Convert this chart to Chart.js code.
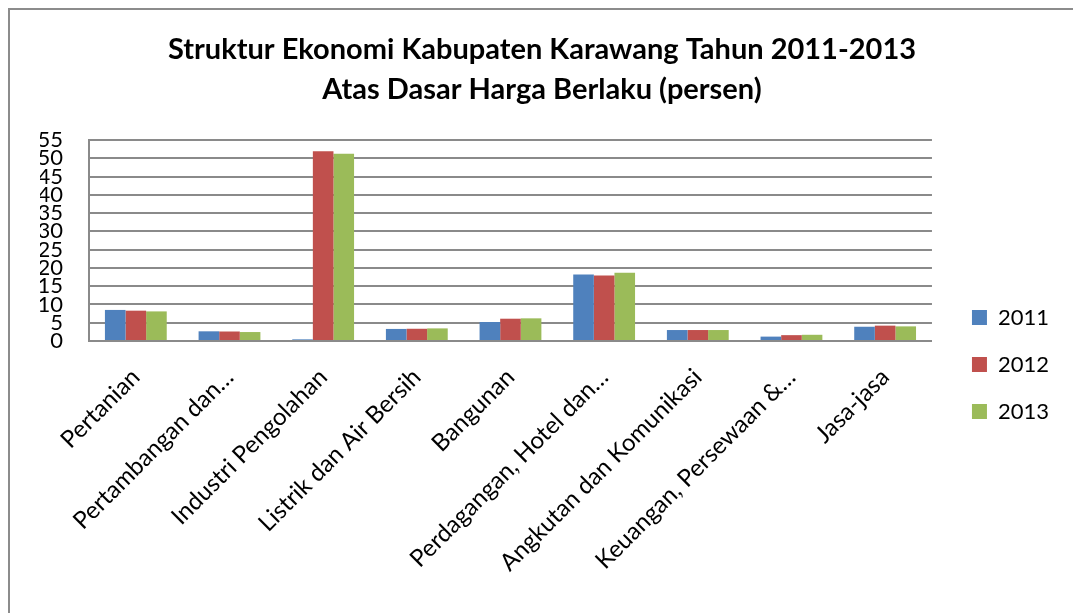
<!DOCTYPE html>
<html>
<head>
<meta charset="utf-8">
<script src="https://cdn.jsdelivr.net/npm/chart.js@4.4.1/dist/chart.umd.min.js"></script>
<style>
  html, body { margin: 0; padding: 0; background: #fff; overflow: hidden; }
  #wrap { position: relative; width: 1073px; height: 613px; }
  #frame { position: absolute; left: 8px; top: 8px; width: 1100px; height: 700px; border: 2px solid #8c8c8c; box-sizing: border-box; pointer-events: none; }
</style>
</head>
<body>
<div id="wrap">
  <canvas id="chart" width="1073" height="613"></canvas>
  <div id="frame"></div>
</div>
<script>
// -------------------
// Data
// -------------------
const categories = [
  "Pertanian",
  "Pertambangan dan…",
  "Industri Pengolahan",
  "Listrik dan Air Bersih",
  "Bangunan",
  "Perdagangan, Hotel dan…",
  "Angkutan dan Komunikasi",
  "Keuangan, Persewaan &…",
  "Jasa-jasa"
];
const years = ["2011", "2012", "2013"];
const values2011 = [8.5, 2.65, 0.45, 3.3, 5.2, 18.2, 3.0, 1.2, 3.9];
const values2012 = [8.3, 2.6, 51.9, 3.35, 6.1, 17.95, 3.0, 1.6, 4.2];
const values2013 = [8.1, 2.45, 51.25, 3.45, 6.2, 18.7, 3.0, 1.7, 4.0];
const yTicks = [0, 5, 10, 15, 20, 25, 30, 35, 40, 45, 50, 55];

const colors = ['#4F81BD', '#C0504D', '#9BBB59'];
const gridColor = '#8a8a8a';
const fontFamily = "Lato, 'Open Sans', sans-serif";

// nudge the legend into the spot Excel puts it (right of plot, lower down)
const legendShift = {
  id: 'legendShift',
  afterLayout(chart) {
    const lg = chart.legend;
    if (!lg) return;
    lg.left += 15; lg.right += 15;
    lg.top += 58; lg.bottom += 58;
  }
};

// -------------------
// Chart
// -------------------
const data = {
  labels: categories,
  datasets: [values2011, values2012, values2013].map((vals, i) => ({
    label: years[i],
    data: vals,
    backgroundColor: colors[i],
    borderWidth: 0,
    categoryPercentage: 0.66,
    barPercentage: 1.0
  }))
};

const config = {
  type: 'bar',
  data: data,
  plugins: [legendShift],
  options: {
    responsive: false,
    animation: false,
    layout: { padding: { left: 40, right: 29, top: 0, bottom: 0 } },
    plugins: {
      title: {
        display: true,
        text: ['Struktur Ekonomi Kabupaten Karawang Tahun 2011-2013', 'Atas Dasar Harga Berlaku (persen)'],
        color: '#000',
        font: { family: fontFamily, size: 29, weight: 'bold', lineHeight: '40px' },
        padding: { top: 30, bottom: 30 }
      },
      legend: {
        position: 'right',
        labels: {
          color: '#000',
          boxWidth: 15,
          boxHeight: 15,
          padding: 25,
          font: { family: fontFamily, size: 22 }
        }
      },
      tooltip: { enabled: false }
    },
    scales: {
      x: {
        grid: { display: false, drawTicks: false },
        border: { color: gridColor, width: 2 },
        ticks: {
          color: '#000',
          maxRotation: 45,
          minRotation: 45,
          autoSkip: false,
          padding: 22,
          font: { family: fontFamily, size: 24 }
        },
        afterFit: (scale) => { scale.height = 272; }
      },
      y: {
        min: 0,
        max: 55,
        afterBuildTicks: (scale) => { scale.ticks = yTicks.map(v => ({ value: v })); },
        grid: { color: gridColor, lineWidth: 2, drawTicks: false },
        border: { color: gridColor, width: 2 },
        ticks: {
          color: '#000',
          autoSkip: false,
          padding: 26,
          font: { family: fontFamily, size: 22 }
        },
        afterFit: (scale) => { scale.width = 49; }
      }
    }
  }
};

new Chart(document.getElementById('chart'), config);
</script>
</body>
</html>
